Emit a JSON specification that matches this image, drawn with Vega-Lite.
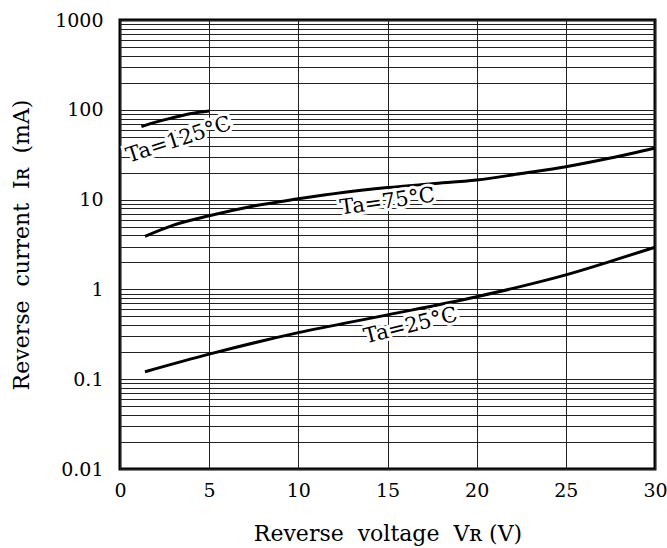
{
  "$schema": "https://vega.github.io/schema/vega-lite/v6.json",
  "autosize": {"type": "none"},
  "width": 535,
  "height": 449,
  "padding": {"left": 120, "top": 20, "right": 12, "bottom": 79},
  "background": "white",
  "config": {
    "view": {"stroke": "black", "strokeWidth": 3},
    "font": "DejaVu Serif"
  },
  "datasets": {
    "curves": [
      {"t": "125", "v": 1.2, "i": 65},
      {"t": "125", "v": 2, "i": 73},
      {"t": "125", "v": 3, "i": 82},
      {"t": "125", "v": 4, "i": 91},
      {"t": "125", "v": 5, "i": 97},
      {"t": "75", "v": 1.4, "i": 3.9},
      {"t": "75", "v": 3, "i": 5.2},
      {"t": "75", "v": 5, "i": 6.6},
      {"t": "75", "v": 7.5, "i": 8.5},
      {"t": "75", "v": 10, "i": 10.2},
      {"t": "75", "v": 12.5, "i": 12},
      {"t": "75", "v": 15, "i": 13.6},
      {"t": "75", "v": 17.5, "i": 15},
      {"t": "75", "v": 20, "i": 16.5},
      {"t": "75", "v": 22.5, "i": 19.5},
      {"t": "75", "v": 25, "i": 23.2},
      {"t": "75", "v": 27.5, "i": 29},
      {"t": "75", "v": 30, "i": 37.5},
      {"t": "25", "v": 1.4, "i": 0.121},
      {"t": "25", "v": 5, "i": 0.19},
      {"t": "25", "v": 10, "i": 0.33},
      {"t": "25", "v": 15, "i": 0.52},
      {"t": "25", "v": 20, "i": 0.83},
      {"t": "25", "v": 22.5, "i": 1.08},
      {"t": "25", "v": 25, "i": 1.45},
      {"t": "25", "v": 27.5, "i": 2.05},
      {"t": "25", "v": 30, "i": 2.95}
    ],
    "labels": [
      {"t": "125", "v": 3.3, "i": 46, "label": "Ta=125°C"},
      {"t": "75", "v": 15.0, "i": 9.4, "label": "Ta=75°C"},
      {"t": "25", "v": 16.3, "i": 0.39, "label": "Ta=25°C"}
    ]
  },
  "encoding": {
    "x": {
      "field": "v", "type": "quantitative",
      "scale": {"domain": [0, 30], "nice": false},
      "axis": {
        "values": [0, 5, 10, 15, 20, 25, 30],
        "title": "Reverse\u00a0\u00a0voltage\u00a0\u00a0Vʀ\u00a0(V)",
        "grid": true, "gridColor": "#222", "gridWidth": 1,
        "ticks": false, "domain": false, "labelFlush": false,
        "labelFont": "DejaVu Serif", "labelFontSize": 19, "labelColor": "black",
        "labelPadding": 12,
        "titleFont": "DejaVu Serif", "titleFontSize": 22, "titleFontWeight": "normal", "titleColor": "black",
        "titlePadding": 23
      }
    },
    "y": {
      "field": "i", "type": "quantitative",
      "scale": {"type": "log", "domain": [0.01, 1000], "nice": false},
      "axis": {
        "values": [0.01,0.02,0.03,0.04,0.05,0.06,0.07,0.08,0.09,0.1,0.2,0.3,0.4,0.5,0.6,0.7,0.8,0.9,1,2,3,4,5,6,7,8,9,10,20,30,40,50,60,70,80,90,100,200,300,400,500,600,700,800,900,1000],
        "labelExpr": "datum.value==0.01?'0.01':datum.value==0.1?'0.1':datum.value==1?'1':datum.value==10?'10':datum.value==100?'100':datum.value==1000?'1000':''",
        "title": "Reverse\u00a0\u00a0current\u00a0\u00a0Iʀ\u00a0\u00a0(mA)",
        "grid": true, "gridColor": "#222", "gridWidth": 1,
        "ticks": false, "domain": false, "labelFlush": false,
        "labelFont": "DejaVu Serif", "labelFontSize": 19, "labelColor": "black",
        "labelPadding": 17, "labelOverlap": false,
        "titleFont": "DejaVu Serif", "titleFontSize": 22, "titleFontWeight": "normal", "titleColor": "black",
        "titlePadding": 21
      }
    }
  },
  "layer": [
    {
      "data": {"name": "curves"},
      "mark": {"type": "line", "color": "black", "strokeWidth": 3, "interpolate": "monotone"},
      "encoding": {"detail": {"field": "t"}}
    },
    {
      "data": {"name": "labels"},
      "transform": [{"filter": "datum.t=='125'"}],
      "layer": [
        {"mark": {"type": "text", "angle": -18, "fontSize": 21, "font": "DejaVu Serif", "stroke": "white", "strokeWidth": 6, "fill": "white"}, "encoding": {"text": {"field": "label"}}},
        {"mark": {"type": "text", "angle": -18, "fontSize": 21, "font": "DejaVu Serif", "fill": "black"}, "encoding": {"text": {"field": "label"}}}
      ]
    },
    {
      "data": {"name": "labels"},
      "transform": [{"filter": "datum.t=='75'"}],
      "layer": [
        {"mark": {"type": "text", "angle": -8, "fontSize": 21, "font": "DejaVu Serif", "stroke": "white", "strokeWidth": 6, "fill": "white"}, "encoding": {"text": {"field": "label"}}},
        {"mark": {"type": "text", "angle": -8, "fontSize": 21, "font": "DejaVu Serif", "fill": "black"}, "encoding": {"text": {"field": "label"}}}
      ]
    },
    {
      "data": {"name": "labels"},
      "transform": [{"filter": "datum.t=='25'"}],
      "layer": [
        {"mark": {"type": "text", "angle": -14, "fontSize": 21, "font": "DejaVu Serif", "stroke": "white", "strokeWidth": 6, "fill": "white"}, "encoding": {"text": {"field": "label"}}},
        {"mark": {"type": "text", "angle": -14, "fontSize": 21, "font": "DejaVu Serif", "fill": "black"}, "encoding": {"text": {"field": "label"}}}
      ]
    }
  ]
}
